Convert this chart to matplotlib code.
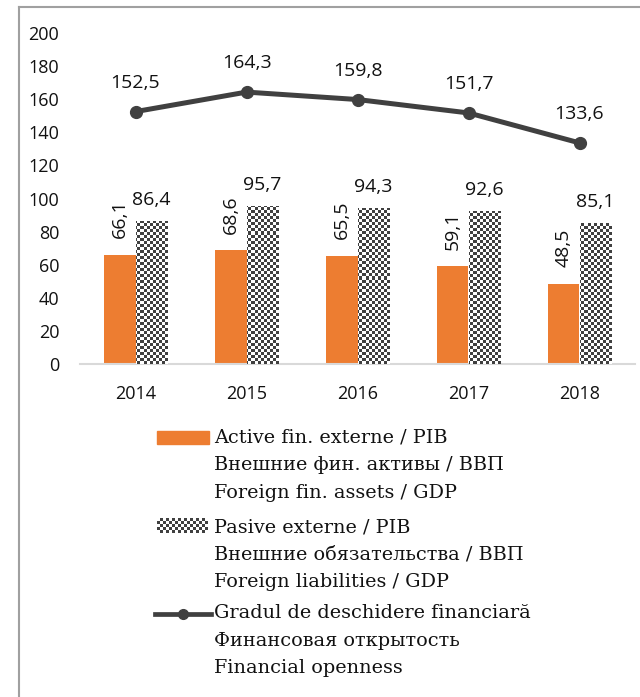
import numpy as np
import matplotlib
matplotlib.use('Agg')
import matplotlib.pyplot as plt
from matplotlib.colors import ListedColormap
from matplotlib.patches import Rectangle
from matplotlib.lines import Line2D

years = ['2014', '2015', '2016', '2017', '2018']
assets = [66.1, 68.6, 65.5, 59.1, 48.5]
liabilities = [86.4, 95.7, 94.3, 92.6, 85.1]
openness = [152.5, 164.3, 159.8, 151.7, 133.6]

assets_label = ['Active fin. externe / PIB', 'Внешние фин. активы / ВВП', 'Foreign fin. assets / GDP']
liab_label = ['Pasive externe / PIB', 'Внешние обязательства / ВВП', 'Foreign liabilities / GDP']
open_label = ['Gradul de deschidere financiară', 'Финансовая открытость', 'Financial openness']

orange = '#ED7D31'
dark = '#404040'
W, H = 640, 697

plt.rcParams['font.family'] = ['Open Sans', 'DejaVu Sans']

fig = plt.figure(figsize=(6.4, 6.97), dpi=100)
ax = fig.add_axes([80 / W, 1 - 364 / H, 555 / W, 331 / H])

x = np.arange(len(years))
bw = 0.288
b1 = ax.bar(x - bw / 2, assets, bw, color=orange, zorder=2)
b2 = ax.bar(x + bw / 2, liabilities, bw, color='white', zorder=2)

# checkerboard fill for the liabilities bars (3 px cells)
cell = 3
ny, nx = 111, 185
checker = np.indices((ny, nx)).sum(axis=0) % 2
cmap = ListedColormap(['white', dark])
x_right = -0.5 + cell * nx * 5 / 555
y_top = cell * ny * 200 / 331
for r in b2:
    im = ax.imshow(checker, extent=[-0.5, x_right, 0, y_top], aspect='auto',
                   interpolation='nearest', cmap=cmap, zorder=3, origin='lower')
    im.set_clip_path(r)

ax.plot(x, openness, color=dark, lw=3.6, marker='o', ms=8.5, zorder=4)

for xi, v in zip(x, assets):
    ax.annotate(f'{v:.1f}'.replace('.', ','), (xi - bw / 2, v), xytext=(0, 12),
                textcoords='offset points', rotation=90, ha='center', va='bottom',
                fontsize=14, color='#111111')
for xi, v in zip(x, liabilities):
    ax.annotate(f'{v:.1f}'.replace('.', ','), (xi + bw / 2, v), xytext=(0, 11.5),
                textcoords='offset points', ha='center', va='baseline',
                fontsize=14, color='#111111')
for xi, v in zip(x, openness):
    ax.annotate(f'{v:.1f}'.replace('.', ','), (xi, v), xytext=(0, 17),
                textcoords='offset points', ha='center', va='baseline',
                fontsize=14, color='#111111')

ax.set_xlim(-0.5, 4.5)
ax.set_ylim(0, 200)
ax.set_yticks(range(0, 201, 20))
ax.set_xticks(x)
ax.set_xticklabels(years)
ax.tick_params(length=0, labelsize=13, colors='#111111')
ax.tick_params(axis='x', pad=15)
ax.tick_params(axis='y', pad=15)
for s in ['top', 'right', 'left']:
    ax.spines[s].set_visible(False)
ax.spines['bottom'].set_color('#d9d9d9')
ax.spines['bottom'].set_linewidth(1.5)

# legend drawn by hand
def fx(px):
    return px / W

def fy(py):
    return 1 - py / H

fig.add_artist(Rectangle((fx(157), fy(444)), 52 / W, 13 / H, color=orange,
                         transform=fig.transFigure))
hchk = np.indices((5, 17)).sum(axis=0) % 2
hchk = np.kron(hchk, np.ones((cell, cell)))
fig.figimage(hchk, xo=157, yo=H - 533, cmap=cmap, zorder=3)
fig.add_artist(Line2D([fx(155), fx(211)], [fy(614), fy(614)], color=dark, lw=3.4,
                      transform=fig.transFigure))
fig.add_artist(Line2D([fx(183)], [fy(614)], color=dark, marker='o', ms=7,
                      transform=fig.transFigure))

for lines, base in [(assets_label, 443), (liab_label, 532), (open_label, 618)]:
    for i, t in enumerate(lines):
        fig.text(fx(214), fy(base + 27.5 * i), t, fontsize=13.9, family='DejaVu Serif',
                 va='baseline', ha='left', color='#111111')

# frame around the picture
fig.add_artist(Line2D([fx(19), fx(19)], [fy(7), 0], color='#a0a0a0', lw=1.5,
                      transform=fig.transFigure))
fig.add_artist(Line2D([fx(19), 1], [fy(7), fy(7)], color='#a0a0a0', lw=1.5,
                      transform=fig.transFigure))

fig.savefig('out.png', dpi=100)
